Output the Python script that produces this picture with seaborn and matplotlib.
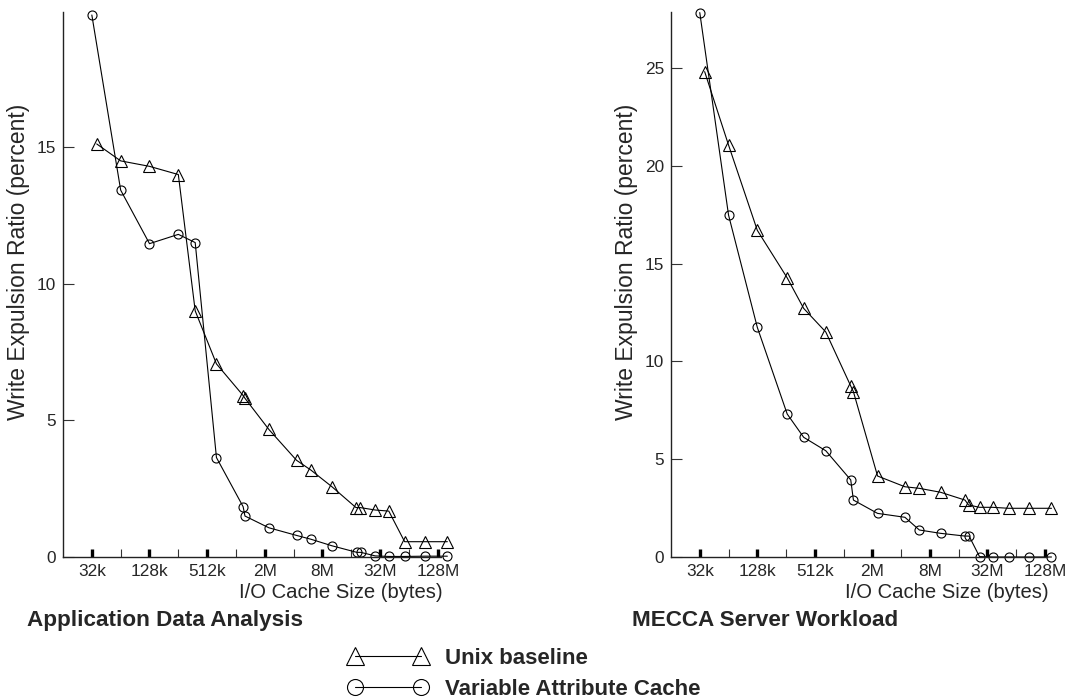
import numpy as np
import pandas as pd
import matplotlib
matplotlib.use("Agg")
import matplotlib.pyplot as plt
from matplotlib.lines import Line2D
from matplotlib.ticker import FixedLocator, FixedFormatter, NullFormatter
import seaborn as sns

# ---- Application Data Analysis ----
app_unix_kb = [36, 64, 128, 256, 384, 640, 1216, 1270, 2256, 4389, 6208, 10297,
               18311, 20177, 29121, 40342, 59016, 95826, 164736]
app_unix_pct = [15.12, 14.5, 14.3, 14.0, 9.01, 7.07, 5.91, 5.81, 4.67, 3.54, 3.18,
                2.57, 1.81, 1.81, 1.72, 1.68, 0.56, 0.56, 0.56]
app_vac_kb = [32, 64, 128, 256, 384, 640, 1216, 1270, 2256, 4389, 6208, 10297,
              18700, 20600, 29121, 40342, 59016, 95826, 164736]
app_vac_pct = [19.84, 13.43, 11.47, 11.81, 11.51, 3.64, 1.84, 1.50, 1.07, 0.79, 0.65,
               0.41, 0.17, 0.17, 0.04, 0.02, 0.02, 0.03, 0.03]

# ---- MECCA Server Workload ----
mecca_unix_kb = [36, 64, 128, 263, 391, 667, 1216, 1297, 2320, 4487, 6350, 10576,
                 19075, 20767, 27060, 37086, 54483, 88455, 153322]
mecca_unix_pct = [24.81, 21.06, 16.70, 14.27, 12.71, 11.5, 8.74, 8.45, 4.14, 3.59,
                  3.51, 3.31, 2.91, 2.66, 2.54, 2.54, 2.49, 2.49, 2.49]
mecca_vac_kb = [32, 64, 128, 263, 391, 667, 1216, 1297, 2320, 4487, 6350, 10576,
                19075, 21055, 27060, 37632, 54483, 88455, 153322]
mecca_vac_pct = [27.83, 17.48, 11.74, 7.31, 6.12, 5.43, 3.94, 2.91, 2.23, 2.03, 1.38,
                 1.21, 1.07, 1.07, 0.02, 0.0, 0.0, 0.0, 0.0]

major_ticks_kb = [32, 128, 512, 2048, 8192, 32768, 131072]
major_labels = ["32k", "128k", "512k", "2M", "8M", "32M", "128M"]
minor_ticks_kb = [64, 256, 1024, 4096, 16384, 65536]

panel_titles = ["Application Data Analysis", "MECCA Server Workload"]
series_labels = ["Unix baseline", "Variable Attribute Cache"]
y_label = "Write Expulsion Ratio (percent)"
x_label = "I/O Cache Size (bytes)"
y_ticks = [[0, 5, 10, 15], [0, 5, 10, 15, 20, 25]]
y_tops = [19.95, 27.86]

sns.set_style("white")
plt.rcParams["font.family"] = ["Liberation Sans", "DejaVu Sans"]

W, H = 1083, 700
fig = plt.figure(figsize=(W / 100, H / 100), dpi=100)
ax_l = fig.add_axes([63 / W, 1 - 557 / H, (441 - 63) / W, (557 - 12) / H])
ax_r = fig.add_axes([671 / W, 1 - 557 / H, (1047 - 671) / W, (557 - 12) / H])

panels = [
    (ax_l, app_unix_kb, app_unix_pct, app_vac_kb, app_vac_pct),
    (ax_r, mecca_unix_kb, mecca_unix_pct, mecca_vac_kb, mecca_vac_pct),
]

line_kw = dict(color="black", linewidth=0.8, mfc="none", mec="black", mew=0.8,
               estimator=None, sort=False, errorbar=None, clip_on=False)

for i, (ax, ux, uy, vx, vy) in enumerate(panels):
    df_u = pd.DataFrame({"size": ux, "pct": uy})
    df_v = pd.DataFrame({"size": vx, "pct": vy})
    sns.lineplot(data=df_u, x="size", y="pct", ax=ax, marker="^", markersize=8.5,
                 **line_kw)
    sns.lineplot(data=df_v, x="size", y="pct", ax=ax, marker="o", markersize=6.5,
                 **line_kw)

    ax.set_xscale("log", base=2)
    ax.set_xlim(16, 2 ** 17.11 if i == 0 else 2 ** 17.07)
    ax.set_ylim(0, y_tops[i])

    ax.xaxis.set_major_locator(FixedLocator(major_ticks_kb))
    ax.xaxis.set_major_formatter(FixedFormatter(major_labels))
    ax.xaxis.set_minor_locator(FixedLocator(minor_ticks_kb))
    ax.xaxis.set_minor_formatter(NullFormatter())
    ax.set_yticks(y_ticks[i])

    ax.tick_params(axis="x", which="major", direction="in", length=6, width=2.4,
                   color="black", labelsize=12.4, pad=5, bottom=True)
    ax.tick_params(axis="x", which="minor", direction="in", length=6, width=0.8,
                   color="#333333", bottom=True)
    ax.tick_params(axis="y", direction="in", length=8, width=0.8, color="#333333",
                   labelsize=12.4, pad=5, left=True)

    for side in ("top", "right"):
        ax.spines[side].set_visible(False)
    for side in ("left", "bottom"):
        ax.spines[side].set_color("#222222")
        ax.spines[side].set_linewidth(1.0)

    ax.set_xlabel("")
    ax.set_ylabel("")
    ax.text(1.005, -(598 - 557) / 545, x_label, transform=ax.transAxes,
            ha="right", va="baseline", fontsize=14.6)
    ax.grid(False)

# rotated axis titles
fig.text(19 / W, 1 - 262 / H, y_label, rotation=90, ha="center", va="center",
         fontsize=16.5)
fig.text(626 / W, 1 - 262 / H, y_label, rotation=90, ha="center", va="center",
         fontsize=16.5)

# panel captions
fig.text(27 / W, 1 - 626 / H, panel_titles[0], ha="left", va="baseline",
         fontsize=16.2, fontweight="bold")
fig.text(632 / W, 1 - 626 / H, panel_titles[1], ha="left", va="baseline",
         fontsize=16.2, fontweight="bold")

handles = [
    Line2D([], [], color="black", linewidth=0.8, marker="^", markersize=13,
           mfc="none", mec="black", mew=0.8),
    Line2D([], [], color="black", linewidth=0.8, marker="o", markersize=11.5,
           mfc="none", mec="black", mew=0.8),
]
fig.legend(handles, series_labels, loc="upper left",
           bbox_to_anchor=(348 / W, 1 - 648 / H), frameon=False,
           numpoints=2, handlelength=3.6, handletextpad=0.75, labelspacing=0.45,
           prop={"weight": "bold", "size": 16}, borderaxespad=0, borderpad=0)

fig.savefig("out.png", dpi=100)
